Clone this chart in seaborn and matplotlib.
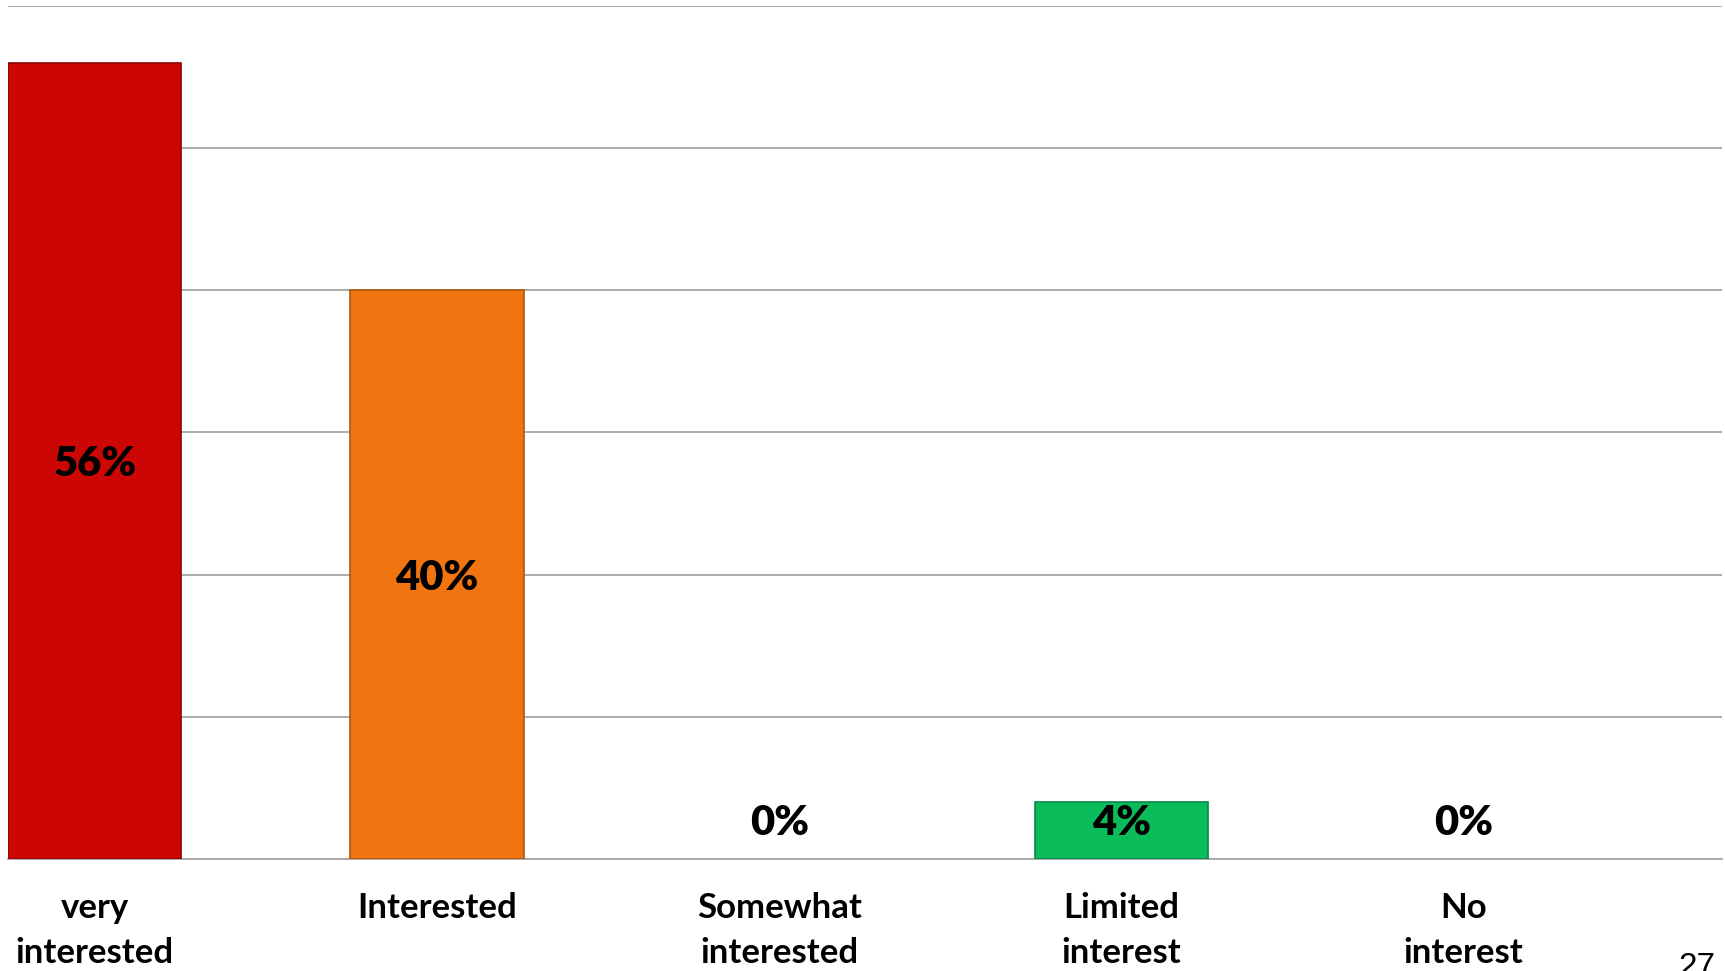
import matplotlib
matplotlib.use("Agg")
import matplotlib.pyplot as plt
import seaborn as sns
import pandas as pd

# chart data
categories = ["very\ninterested", "Interested", "Somewhat\ninterested", "Limited\ninterest", "No\ninterest"]
values = [56, 40, 0, 4, 0]
colors = ["#CC0605", "#F07510", "#0BBD5A", "#0BBD5A", "#0BBD5A"]
edge_colors = ["#8E0403", "#B0560C", "#08884A", "#08884A", "#08884A"]

df = pd.DataFrame({"category": categories, "value": values})

sns.set_style("white")
plt.rcParams['font.family'] = ['Lato', 'DejaVu Sans']

fig = plt.figure(figsize=(17.25, 9.71), dpi=100)
ax = fig.add_axes([8 / 1725, 1 - 859 / 971, 1714 / 1725, 853 / 971])

sns.barplot(data=df, x="category", y="value", hue="category", palette=colors,
            width=0.506, saturation=1, legend=False, ax=ax, zorder=3)

for bar, ec, v in zip(ax.patches, edge_colors, values):
    bar.set_edgecolor(ec)
    bar.set_linewidth(1.2 if v > 0 else 0)

ax.set_ylim(0, 60)
ax.set_xlim(-0.254, 4.756)
ax.set_yticks(range(0, 61, 10))
ax.yaxis.grid(True, color="#A6A6A6", linewidth=1.3, zorder=0)
ax.set_yticklabels([])
ax.tick_params(axis="y", length=0)
ax.tick_params(axis="x", length=0, pad=24, labelcolor="black")
for s in ["top", "right", "left"]:
    ax.spines[s].set_visible(False)
ax.spines["bottom"].set_color("#A6A6A6")
ax.spines["bottom"].set_linewidth(1.3)
ax.set_xlabel("")
ax.set_ylabel("")
ax.set_xticks(range(len(categories)))
ax.set_xticklabels(categories, fontsize=25, fontweight="bold", linespacing=1.5)

# percentage labels
for i, v in enumerate(values):
    ax.text(i, max(v / 2, 2.74) - 0.2, f"{v}%", ha="center", va="center",
            fontsize=30, fontweight="heavy", color="black", zorder=5)

fig.text(1697 / 1725, 1 - 952 / 971, "27", ha="center", va="top",
         fontsize=24, family="Liberation Sans", color="black")

fig.savefig("out.png", dpi=100)
